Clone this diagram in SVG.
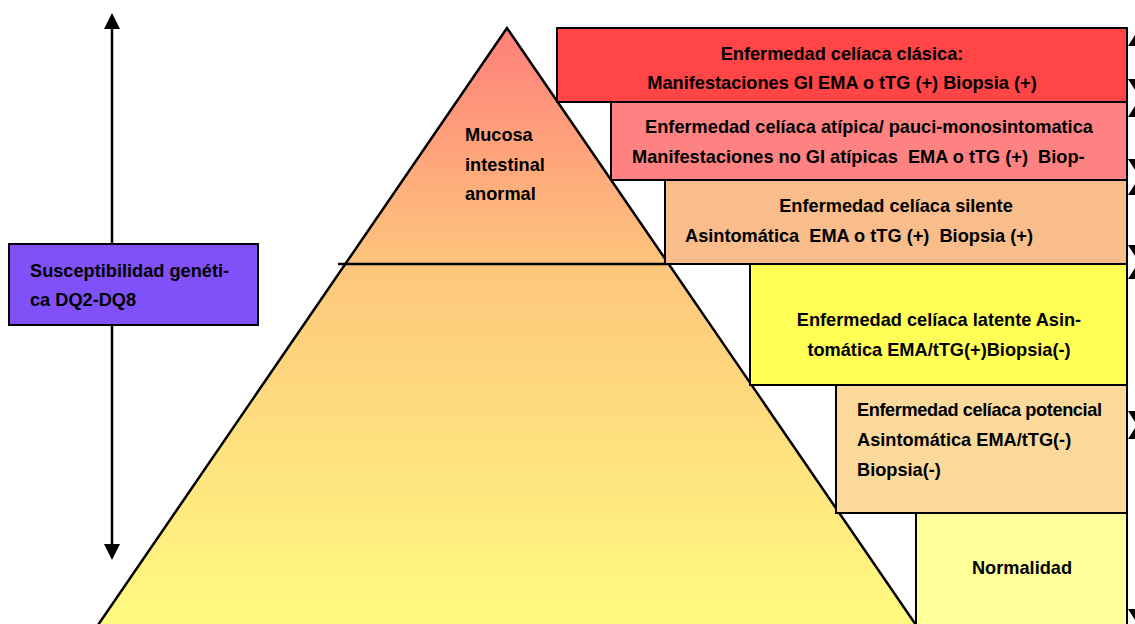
<svg xmlns="http://www.w3.org/2000/svg" width="1135" height="624" viewBox="0 0 1135 624">
  <style>
    .lbl { font-family: "Liberation Sans", Arial, sans-serif; font-weight: bold; font-size: 18.2px; fill: #000; }
    .mid { text-anchor: middle; }
    .box { stroke: #000; stroke-width: 2; }
    .arr { stroke: #000; stroke-width: 2.5; fill: none; }
    .head { fill: #000; }
  </style>
  <defs>
    <linearGradient id="pyrFill" x1="0" y1="28" x2="0" y2="624" gradientUnits="userSpaceOnUse">
      <stop offset="0" stop-color="#ff7f7a"/>
      <stop offset="0.4" stop-color="#fdc67c"/>
      <stop offset="1" stop-color="#fffb80"/>
    </linearGradient>
  </defs>

  <!-- pyramid (base runs past the lower edge) -->
  <g id="pyramid">
    <polygon points="507,28 85,644 929,644" fill="url(#pyrFill)" stroke="#000" stroke-width="2.5"/>
    <line x1="338" y1="264" x2="667" y2="264" stroke="#000" stroke-width="2.5"/>
    <text class="lbl" x="465" y="141">Mucosa</text>
    <text class="lbl" x="465" y="171">intestinal</text>
    <text class="lbl" x="465" y="200">anormal</text>
  </g>

  <!-- stacked clinical forms -->
  <g id="clasica">
    <rect class="box" x="557" y="28" width="570" height="74" fill="#ff4545"/>
    <text class="lbl mid" x="842" y="60">Enfermedad celíaca clásica:</text>
    <text class="lbl mid" x="842" y="89">Manifestaciones GI EMA o tTG (+) Biopsia (+)</text>
  </g>
  <g id="atipica">
    <rect class="box" x="611" y="102" width="516" height="78" fill="#ff8282"/>
    <text class="lbl mid" x="869" y="133">Enfermedad celíaca atípica/ pauci-monosintomatica</text>
    <text class="lbl" x="632" y="163" xml:space="preserve">Manifestaciones no GI atípicas  EMA o tTG (+)  Biop-</text>
  </g>
  <g id="silente">
    <rect class="box" x="665" y="180" width="462" height="84" fill="#f8bd8a"/>
    <text class="lbl mid" x="896" y="212">Enfermedad celíaca silente</text>
    <text class="lbl" x="685" y="242" xml:space="preserve">Asintomática  EMA o tTG (+)  Biopsia (+)</text>
  </g>
  <g id="latente">
    <rect class="box" x="750" y="264" width="377" height="121" fill="#ffff55"/>
    <text class="lbl mid" x="939" y="326">Enfermedad celíaca latente Asin-</text>
    <text class="lbl mid" x="939" y="356">tomática EMA/tTG(+)Biopsia(-)</text>
  </g>
  <g id="potencial">
    <rect class="box" x="836" y="385" width="291" height="128" fill="#fbd99b"/>
    <text class="lbl" x="857" y="416" textLength="245">Enfermedad celíaca potencial</text>
    <text class="lbl" x="857" y="446">Asintomática EMA/tTG(-)</text>
    <text class="lbl" x="857" y="476">Biopsia(-)</text>
  </g>
  <g id="normalidad">
    <rect class="box" x="916" y="513" width="211" height="120" fill="#ffff9a"/>
    <text class="lbl mid" x="1022" y="574">Normalidad</text>
  </g>

  <!-- connectors: genetic susceptibility axis and right-hand range arrows -->
  <g id="connectors">
    <line class="arr" x1="112" y1="26" x2="112" y2="546"/>
    <polygon class="head" points="112,13 104,29 120,29"/>
    <polygon class="head" points="112,560 104,544 120,544"/>

    <line class="arr" x1="1137" y1="40" x2="1137" y2="86"/>
    <polygon class="head" points="1137,32 1128,46 1146,46"/>
    <polygon class="head" points="1137,93 1128,79 1146,79"/>

    <line class="arr" x1="1137" y1="110" x2="1137" y2="166"/>
    <polygon class="head" points="1137,103 1128,117 1146,117"/>
    <polygon class="head" points="1137,173 1128,159 1146,159"/>

    <line class="arr" x1="1137" y1="188" x2="1137" y2="252"/>
    <polygon class="head" points="1137,181 1128,195 1146,195"/>
    <polygon class="head" points="1137,259 1128,245 1146,245"/>

    <line class="arr" x1="1137" y1="272" x2="1137" y2="418"/>
    <polygon class="head" points="1137,265 1128,279 1146,279"/>
    <polygon class="head" points="1137,425 1128,411 1146,411"/>

    <line class="arr" x1="1137" y1="432" x2="1137" y2="616"/>
    <polygon class="head" points="1137,425 1128,439 1146,439"/>
    <polygon class="head" points="1137,623 1128,609 1146,609"/>
  </g>

  <g id="susceptibilidad">
    <rect class="box" x="9" y="244" width="249" height="81" fill="#8050f8"/>
    <text class="lbl" x="30" y="277">Susceptibilidad genéti-</text>
    <text class="lbl" x="30" y="306">ca DQ2-DQ8</text>
  </g>
</svg>
